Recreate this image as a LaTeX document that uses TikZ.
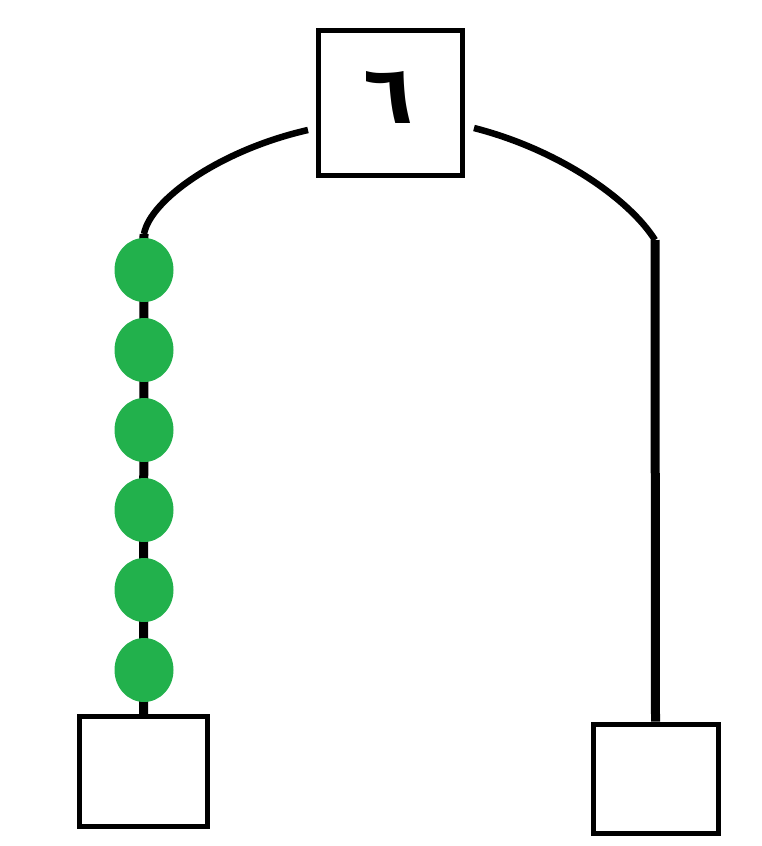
\documentclass[tikz,border=0pt]{standalone}
\usepackage{fontspec}
\usetikzlibrary{shapes.geometric}
\TeXXeTstate=1
\newfontfamily\arabicfont[Script=Arabic]{DejaVu Sans}
\definecolor{beadgreen}{RGB}{34,177,76}
\tikzset{
  boxnode/.style={draw=black, line width=5pt, fill=white, rectangle, inner sep=0pt},
  bead/.style={ellipse, fill=beadgreen, draw=none, minimum width=59pt, minimum height=64pt, inner sep=0pt},
  wire/.style={draw=black, line width=6.5pt},
  thickwire/.style={draw=black, line width=9pt}
}
\begin{document}
\begin{tikzpicture}[x=1pt,y=-1pt]
\useasboundingbox (0,0) rectangle (762,846);
\node[boxnode, minimum width=144pt, minimum height=145pt] (top) at (390,102.5) {};
\node (glyph) at (389,97) {\fontsize{82}{90}\selectfont\arabicfont\bfseries\beginR ٦\endR};
\node[boxnode, minimum width=128pt, minimum height=110pt] (bl) at (143.5,771.5) {};
\node[boxnode, minimum width=125pt, minimum height=109pt] (br) at (655.5,778.5) {};
\coordinate (la) at (308,130);
\coordinate (lb) at (144,234);
\coordinate (ra) at (474,128);
\coordinate (rb) at (655,240);
\draw[wire] (la) .. controls (220,150) and (150,200) .. (lb);
\draw[thickwire] (lb) -- (bl.north);
\draw[wire] (ra) .. controls (560,150) and (630,200) .. (rb);
\draw[thickwire] (rb) -- (br.north);
\node[bead] (c1) at (144,270) {};
\node[bead] (c2) at (144,350) {};
\node[bead] (c3) at (144,430) {};
\node[bead] (c4) at (144,510) {};
\node[bead] (c5) at (144,590) {};
\node[bead] (c6) at (144,670) {};
\end{tikzpicture}
\end{document}
